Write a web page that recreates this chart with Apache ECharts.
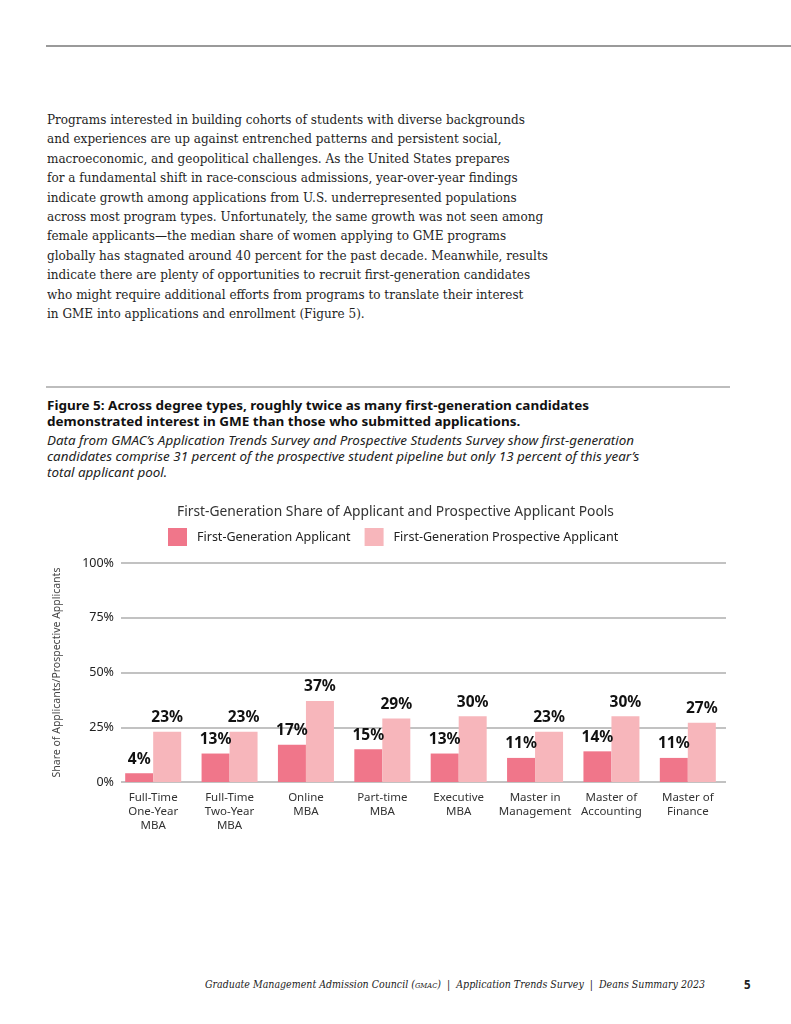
<!DOCTYPE html>
<html>
<head>
<meta charset="utf-8">
<script src="https://cdn.jsdelivr.net/npm/echarts@6/dist/echarts.min.js"></script>
<style>
  html,body{margin:0;padding:0;background:#fff;}
  body{width:791px;height:1024px;position:relative;overflow:hidden;}
  .abs{position:absolute;}
  .fit{transform-origin:0 0;white-space:nowrap;}
  .fit div{white-space:nowrap;}
  #body{left:47px;top:110px;font-family:"DejaVu Serif",serif;font-size:13.2px;line-height:19.4px;color:#1f1f1f;}
  #ftitle{left:47px;top:397px;font-family:"Noto Sans",sans-serif;font-weight:bold;font-size:13px;line-height:16px;color:#111;}
  #fsub{left:47px;top:432px;font-family:"Noto Sans",sans-serif;font-style:italic;font-size:11.8px;line-height:16px;color:#222;}
  #footer{left:205px;top:977px;font-family:"DejaVu Serif",serif;font-style:italic;font-size:11.2px;line-height:16px;color:#222;}
  #pnum{left:744px;top:977px;font-family:"Noto Sans",sans-serif;font-weight:bold;font-size:11.5px;line-height:16px;color:#222;}
  #chart{left:0;top:490px;width:791px;height:360px;}
</style>
</head>
<body>
<div class="abs" style="left:46px;top:45px;width:745px;height:2px;background:#9a9a9a;"></div>
<div id="body" class="abs fit" data-w="478"></div>
<div class="abs" style="left:46px;top:386px;width:684px;height:1.5px;background:#bdbdbd;"></div>
<div id="ftitle" class="abs fit" data-w="542"></div>
<div id="fsub" class="abs fit" data-w="587"></div>
<div id="chart" class="abs"></div>
<div id="footer" class="abs fit" data-w="500"><div>Graduate Management Admission Council (<span style="font-variant:small-caps;">gmac</span>)&nbsp; |&nbsp; Application Trends Survey&nbsp; |&nbsp; Deans Summary 2023</div></div>
<div id="pnum" class="abs">5</div>
<script>
// ---- text content ----
const bodyLines = [
  "Programs interested in building cohorts of students with diverse backgrounds",
  "and experiences are up against entrenched patterns and persistent social,",
  "macroeconomic, and geopolitical challenges. As the United States prepares",
  "for a fundamental shift in race-conscious admissions, year-over-year findings",
  "indicate growth among applications from U.S. underrepresented populations",
  "across most program types. Unfortunately, the same growth was not seen among",
  "female applicants\u2014the median share of women applying to GME programs",
  "globally has stagnated around 40 percent for the past decade. Meanwhile, results",
  "indicate there are plenty of opportunities to recruit first-generation candidates",
  "who might require additional efforts from programs to translate their interest",
  "in GME into applications and enrollment (Figure 5)."
];
const figTitleLines = [
  "Figure 5: Across degree types, roughly twice as many first-generation candidates",
  "demonstrated interest in GME than those who submitted applications."
];
const figSubLines = [
  "Data from GMAC\u2019s Application Trends Survey and Prospective Students Survey show first-generation",
  "candidates comprise 31 percent of the prospective student pipeline but only 13 percent of this year\u2019s",
  "total applicant pool."
];

// ---- chart data ----
const chartTitle = "First-Generation Share of Applicant and Prospective Applicant Pools";
const seriesNames = ["First-Generation Applicant", "First-Generation Prospective Applicant"];
const categories = [
  "Full-Time\nOne-Year\nMBA",
  "Full-Time\nTwo-Year\nMBA",
  "Online\nMBA",
  "Part-time\nMBA",
  "Executive\nMBA",
  "Master in\nManagement",
  "Master of\nAccounting",
  "Master of\nFinance"
];
const applicantValues = [4, 13, 17, 15, 13, 11, 14, 11];
const prospectiveValues = [23, 23, 37, 29, 30, 23, 30, 27];
const yTicks = [0, 25, 50, 75, 100];
const yAxisName = "Share of Applicants/Prospective Applicants";

function fill(id, lines){
  const el = document.getElementById(id);
  lines.forEach(t => { const d = document.createElement('div'); d.textContent = t; el.appendChild(d); });
}
fill('body', bodyLines);
fill('ftitle', figTitleLines);
fill('fsub', figSubLines);

// scale each text block horizontally so that its first line matches the reference width
document.querySelectorAll('.fit').forEach(el => {
  const first = el.firstElementChild;
  const r = document.createRange(); r.selectNodeContents(first);
  const w = r.getBoundingClientRect().width;
  const target = parseFloat(el.dataset.w);
  if (w > 0) el.style.transform = 'scaleX(' + (target / w) + ')';
});

const FONT = '"Noto Sans", sans-serif';
const yMin = yTicks[0], yMax = yTicks[yTicks.length - 1];
const labelStyle = {show: true, position: 'top', distance: 6, formatter: '{c}%',
  fontFamily: FONT, fontSize: 15.5, fontWeight: 'bold', color: '#111'};

const chart = echarts.init(document.getElementById('chart'), null, {renderer: 'canvas'});
chart.setOption({
  animation: false,
  textStyle: {fontFamily: FONT},
  title: {
    text: chartTitle,
    left: 'center',
    top: 10,
    textStyle: {fontFamily: FONT, fontSize: 13.8, fontWeight: 'normal', color: '#333'}
  },
  legend: {
    top: 38,
    left: 168,
    padding: 0,
    itemWidth: 19,
    itemHeight: 18,
    itemGap: 14,
    icon: 'rect',
    textStyle: {fontFamily: FONT, fontSize: 12.5, color: '#222', padding: [0, 0, 0, 5]},
    data: seriesNames
  },
  grid: [
    // grid holding the value scale and the gridlines
    {left: 121, right: 65, top: 73, bottom: 68},
    // grid holding the bars and the category labels
    {left: 115, right: 65, top: 73, bottom: 68}
  ],
  xAxis: [
    {type: 'value', gridIndex: 0, show: false, min: 0, max: 1},
    {
      type: 'category', gridIndex: 1,
      data: categories,
      axisTick: {show: false},
      axisLine: {show: false},
      axisLabel: {fontFamily: FONT, fontSize: 11.5, color: '#333', lineHeight: 14, margin: 9, interval: 0}
    }
  ],
  yAxis: [
    {
      type: 'value', gridIndex: 0,
      min: yMin, max: yMax, interval: 25,
      name: yAxisName,
      nameLocation: 'middle',
      nameGap: 58,
      nameTextStyle: {fontFamily: FONT, fontSize: 10.5, color: '#444'},
      axisLine: {show: false},
      axisTick: {show: false},
      axisLabel: {fontFamily: FONT, fontSize: 12.5, color: '#222', margin: 7, formatter: v => v + '%'},
      splitLine: {lineStyle: {color: '#c2c2c2', width: 1.8}}
    },
    {type: 'value', gridIndex: 1, min: yMin, max: yMax, interval: 25, show: false, splitLine: {show: false}}
  ],
  series: [
    {
      name: seriesNames[0], type: 'bar', data: applicantValues,
      xAxisIndex: 1, yAxisIndex: 1,
      barWidth: 28, barGap: '0%',
      itemStyle: {color: '#f0768a'},
      label: labelStyle
    },
    {
      name: seriesNames[1], type: 'bar', data: prospectiveValues,
      xAxisIndex: 1, yAxisIndex: 1,
      barWidth: 28, barGap: '0%',
      itemStyle: {color: '#f7b6bb'},
      label: labelStyle
    }
  ]
});
</script>
</body>
</html>
